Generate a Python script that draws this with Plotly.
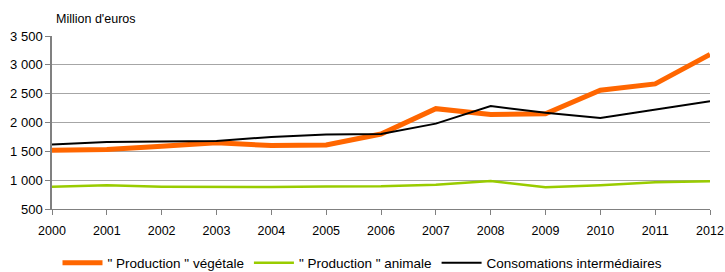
import plotly.graph_objects as go

years = list(range(2000, 2013))
vegetale = [1520, 1530, 1590, 1650, 1600, 1610, 1800, 2240, 2140, 2150, 2560, 2670, 3180]
animale = [885, 912, 888, 880, 880, 892, 895, 920, 985, 878, 910, 962, 980]
conso = [1620, 1660, 1670, 1680, 1750, 1790, 1800, 1980, 2285, 2170, 2080, 2230, 2370]
names = ['" Production " végétale', '" Production " animale', 'Consomations intermédiaires']

fig = go.Figure()
fig.add_trace(go.Scatter(x=years, y=vegetale, name=names[0], mode="lines",
                         line=dict(color="#FF6600", width=5)))
fig.add_trace(go.Scatter(x=years, y=animale, name=names[1], mode="lines",
                         line=dict(color="#99CC00", width=2.5)))
fig.add_trace(go.Scatter(x=years, y=conso, name=names[2], mode="lines",
                         line=dict(color="#000000", width=2)))

fig.update_layout(
    width=725, height=272,
    margin=dict(l=52, r=15, t=36, b=63, autoexpand=False),
    paper_bgcolor="white", plot_bgcolor="white",
    font=dict(family="Liberation Sans, Arial, sans-serif", size=13, color="#000000"),
    separators=", ",
    showlegend=True,
    legend=dict(orientation="h", x=0.5, xanchor="center", xref="container",
                y=0.033, yanchor="middle", yref="container",
                font=dict(size=13.5), itemwidth=40, tracegroupgap=0),
    annotations=[dict(text="Million d'euros", xref="paper", yref="paper", x=0.0, y=1.0,
                      xanchor="left", yanchor="bottom", yshift=8, xshift=2, showarrow=False,
                      font=dict(size=12.5))],
)
fig.update_xaxes(range=[2000, 2012], tickmode="array", tickvals=years,
                 ticks="outside", ticklen=5, tickcolor="#808080",
                 showgrid=False, showline=True, linecolor="#808080", linewidth=1,
                 zeroline=False, tickfont=dict(size=12.5), automargin=False,
                 ticklabelstandoff=5)
fig.update_yaxes(range=[500, 3500], tickmode="array", tickvals=[500, 1000, 1500, 2000, 2500, 3000, 3500],
                 tickformat=",d", ticks="outside", ticklen=5, tickcolor="#808080",
                 showgrid=True, gridcolor="#A6A6A6", gridwidth=1,
                 showline=True, linecolor="#808080", linewidth=1.5,
                 zeroline=False, tickfont=dict(size=13), automargin=False)

fig.write_html("out.html", config={"displayModeBar": False},
               post_script="document.body.style.margin='0px';")
